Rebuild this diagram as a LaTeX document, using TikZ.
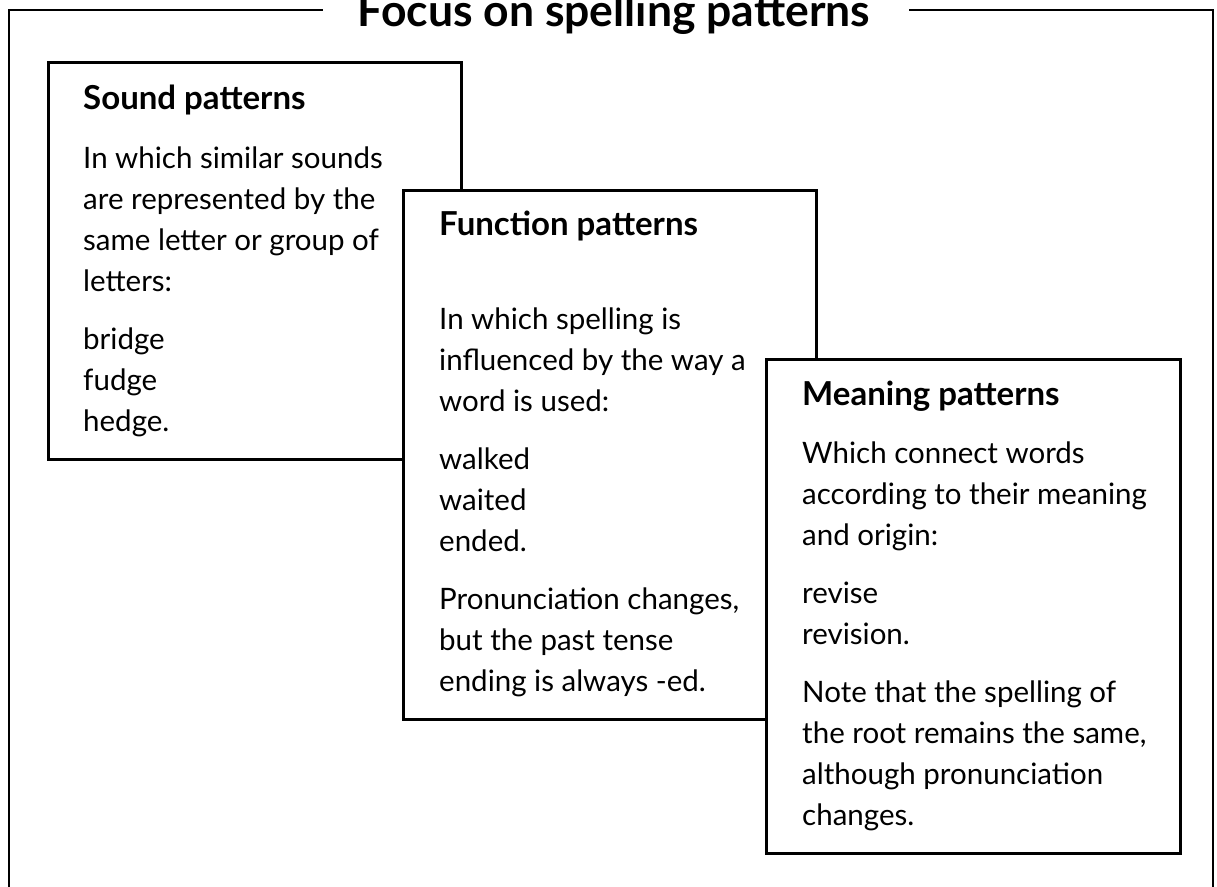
\documentclass[tikz,border=0pt]{standalone}
\usepackage{fontspec}
\setmainfont{Lato}
\begin{document}
\begin{tikzpicture}[x=1pt,y=-1pt,
  frameline/.style={line width=2.6pt, line cap=rect},
  panel/.style={draw, line width=2.6pt, fill=white, inner sep=0pt, anchor=north west},
  ln/.style={anchor=base west, inner sep=0pt, font=\fontsize{29.5}{35}\selectfont},
  hd/.style={anchor=base west, inner sep=0pt, font=\fontsize{33}{38}\selectfont\bfseries},
  ttl/.style={anchor=base, inner sep=0pt, font=\fontsize{44.5}{52}\selectfont\bfseries}]
\useasboundingbox (0,0) rectangle (1217,886);
\clip (0,0) rectangle (1217,886);
\fill[white] (0,0) rectangle (1217,886);
% outer frame
\coordinate (tl) at (9,10);
\coordinate (tlend) at (322,10);
\coordinate (trstart) at (910,10);
\coordinate (tr) at (1213,10);
\coordinate (bl) at (9,900);
\coordinate (br) at (1213,900);
\draw[frameline] (tlend) -- (tl) -- (bl);
\draw[frameline] (trstart) -- (tr) -- (br);
\node[ttl] (title) at (614,27) {Focus on spelling patterns};
% Sound box
\node[panel, minimum width=413pt, minimum height=397pt] (sound) at (47,61) {};
\node[hd] (s0) at (83,109) {Sound patterns};
\foreach \t/\yy [count=\i] in {In which similar sounds/168, are represented by the/209, same letter or group of/250, letters:/291, bridge/349, fudge/390, hedge./431}
  \node[ln] (s\i) at (83,\yy) {\t};
% Function box
\node[panel, minimum width=413pt, minimum height=529pt] (func) at (402,189) {};
\node[hd] (f0) at (439,235) {Function patterns};
\foreach \t/\yy [count=\i] in {In which spelling is/329, influenced by the way a/370, word is used:/411, walked/469, waited/510, ended./551, {Pronunciation changes,}/609, but the past tense/650, ending is always -ed./691}
  \node[ln] (f\i) at (439,\yy) {\t};
% Meaning box
\node[panel, minimum width=414pt, minimum height=494pt] (mean) at (765,358) {};
\node[hd] (m0) at (802,405) {Meaning patterns};
\foreach \t/\yy [count=\i] in {Which connect words/463, according to their meaning/504, and origin:/545, revise/603, revision./644, Note that the spelling of/702, {the root remains the same,}/743, although pronunciation/784, changes./825}
  \node[ln] (m\i) at (802,\yy) {\t};
\end{tikzpicture}
\end{document}
